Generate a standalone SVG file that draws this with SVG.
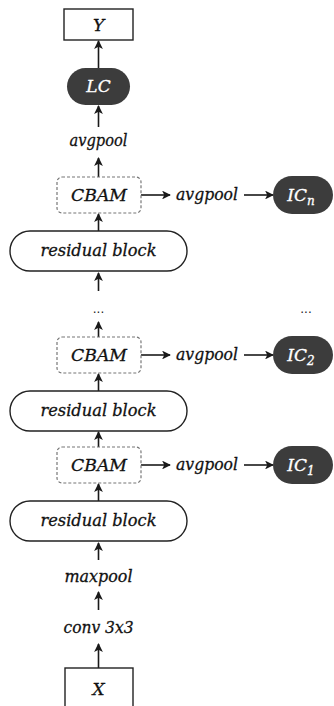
<svg xmlns="http://www.w3.org/2000/svg" width="334" height="706" viewBox="0 0 334 706">
  <defs>
    <marker id="arrow" viewBox="0 0 10 10" refX="9" refY="5" markerWidth="5.5" markerHeight="5.5" orient="auto" markerUnits="strokeWidth">
      <path d="M0,0 L10,5 L0,10 L2.5,5 Z" fill="#1a1a1a"/>
    </marker>
    <style>
      .lbl { font-family: "DejaVu Serif", "Liberation Serif", serif; font-style: italic; font-size: 17px; fill: #111; stroke: #111; stroke-width: 0.3; text-anchor: middle; }
      .inv { fill: #fff; stroke: #fff; }
      .box { fill: #fff; stroke: #222; stroke-width: 1.4; }
      .pill { fill: #fff; stroke: #222; stroke-width: 1.4; }
      .dash { fill: #fff; stroke: #777; stroke-width: 1.2; stroke-dasharray: 3 2; }
      .dark { fill: #3c3c3c; stroke: none; }
      .edge { fill: none; stroke: #1a1a1a; stroke-width: 1.6; marker-end: url(#arrow); }
      .dots { font-family: "DejaVu Sans", sans-serif; font-size: 12px; fill: #222; text-anchor: middle; }
    </style>
  </defs>

  <!-- connectors -->
  <g id="connectors">
    <path class="edge" d="M98.5,68 V41"/>
    <path class="edge" d="M98.5,127 V106"/>
    <path class="edge" d="M98.5,177 V158"/>
    <path class="edge" d="M98.5,231 V214"/>
    <path class="edge" d="M98.5,291 V273"/>
    <path class="edge" d="M98.5,337 V322"/>
    <path class="edge" d="M98.5,391 V374"/>
    <path class="edge" d="M98.5,447 V432"/>
    <path class="edge" d="M98.5,501 V484"/>
    <path class="edge" d="M98.5,560 V543"/>
    <path class="edge" d="M98.5,610 V592"/>
    <path class="edge" d="M98.5,668 V644"/>
    <!-- side branches -->
    <path class="edge" d="M141,195 H170"/>
    <path class="edge" d="M244,195 H273"/>
    <path class="edge" d="M141,355 H170"/>
    <path class="edge" d="M244,355 H273"/>
    <path class="edge" d="M141,465 H170"/>
    <path class="edge" d="M244,465 H273"/>
  </g>

  <!-- output -->
  <g id="node-y">
    <rect class="box" x="64" y="9" width="69" height="31"/>
    <text class="lbl" x="98.5" y="31">Y</text>
  </g>
  <g id="node-lc">
    <rect class="dark" x="67" y="68" width="63" height="37" rx="18.5"/>
    <text class="lbl inv" x="98.5" y="92">LC</text>
  </g>
  <g id="node-avgpool-top">
    <text class="lbl" x="98.5" y="146" textLength="58" lengthAdjust="spacingAndGlyphs">avgpool</text>
  </g>

  <!-- stage n -->
  <g id="node-cbam-n">
    <rect class="dash" x="57" y="177" width="84" height="36" rx="5"/>
    <text class="lbl" x="99" y="201" textLength="56" lengthAdjust="spacingAndGlyphs">CBAM</text>
  </g>
  <g id="node-avgpool-n">
    <text class="lbl" x="207" y="200" textLength="62" lengthAdjust="spacingAndGlyphs">avgpool</text>
  </g>
  <g id="node-ic-n">
    <rect class="dark" x="273" y="176" width="60" height="38" rx="19"/>
    <text class="lbl inv" x="301" y="201">IC<tspan font-size="12" dy="4">n</tspan></text>
  </g>
  <g id="node-res-1">
    <rect class="pill" x="10" y="231" width="177" height="40" rx="20"/>
    <text class="lbl" x="98.5" y="256" textLength="116" lengthAdjust="spacingAndGlyphs">residual block</text>
  </g>

  <g id="node-ellipsis">
    <text class="dots" x="98.5" y="313">...</text>
    <text class="dots" x="306" y="313">...</text>
  </g>

  <!-- stage 2 -->
  <g id="node-cbam-2">
    <rect class="dash" x="57" y="337" width="84" height="36" rx="5"/>
    <text class="lbl" x="99" y="361" textLength="56" lengthAdjust="spacingAndGlyphs">CBAM</text>
  </g>
  <g id="node-avgpool-2">
    <text class="lbl" x="207" y="360" textLength="62" lengthAdjust="spacingAndGlyphs">avgpool</text>
  </g>
  <g id="node-ic-2">
    <rect class="dark" x="273" y="336" width="60" height="38" rx="19"/>
    <text class="lbl inv" x="301" y="361">IC<tspan font-size="12" dy="4">2</tspan></text>
  </g>
  <g id="node-res-2">
    <rect class="pill" x="10" y="391" width="177" height="40" rx="20"/>
    <text class="lbl" x="98.5" y="416" textLength="116" lengthAdjust="spacingAndGlyphs">residual block</text>
  </g>

  <!-- stage 1 -->
  <g id="node-cbam-1">
    <rect class="dash" x="57" y="447" width="84" height="36" rx="5"/>
    <text class="lbl" x="99" y="471" textLength="56" lengthAdjust="spacingAndGlyphs">CBAM</text>
  </g>
  <g id="node-avgpool-1">
    <text class="lbl" x="207" y="470" textLength="62" lengthAdjust="spacingAndGlyphs">avgpool</text>
  </g>
  <g id="node-ic-1">
    <rect class="dark" x="273" y="446" width="60" height="38" rx="19"/>
    <text class="lbl inv" x="301" y="471">IC<tspan font-size="12" dy="4">1</tspan></text>
  </g>
  <g id="node-res-3">
    <rect class="pill" x="10" y="501" width="177" height="40" rx="20"/>
    <text class="lbl" x="98.5" y="526" textLength="116" lengthAdjust="spacingAndGlyphs">residual block</text>
  </g>

  <!-- stem -->
  <g id="node-maxpool">
    <text class="lbl" x="98.5" y="582" textLength="68" lengthAdjust="spacingAndGlyphs">maxpool</text>
  </g>
  <g id="node-conv">
    <text class="lbl" x="98.5" y="633" textLength="70" lengthAdjust="spacingAndGlyphs">conv 3x3</text>
  </g>
  <g id="node-x">
    <rect class="box" x="65" y="668" width="68" height="44"/>
    <text class="lbl" x="98.5" y="695">X</text>
  </g>
</svg>
